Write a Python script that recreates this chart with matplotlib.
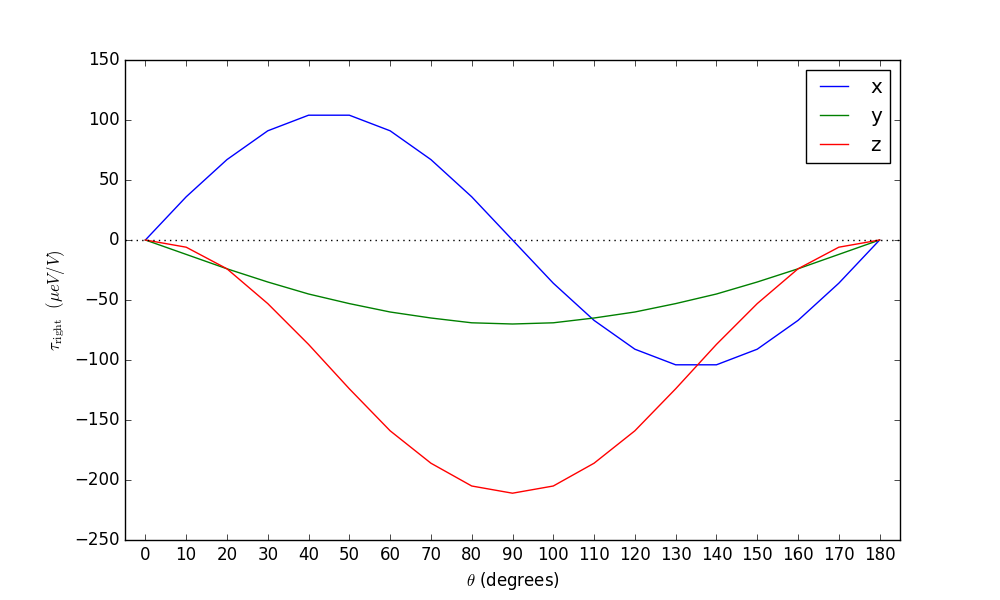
import matplotlib
matplotlib.use("Agg")
import matplotlib.pyplot as plt

plt.style.use("classic")

theta = list(range(0, 181, 10))
tau_x = [0, 36, 67, 91, 104, 104, 91, 67, 36, 0, -36, -67, -91, -104, -104, -91, -67, -36, 0]
tau_y = [0, -12, -24, -35, -45, -53, -60, -65, -69, -70, -69, -65, -60, -53, -45, -35, -24, -12, 0]
tau_z = [0, -6, -24, -53, -87, -124, -159, -186, -205, -211, -205, -186, -159, -124, -87, -53, -24, -6, 0]

fig = plt.figure(figsize=(10, 6), dpi=100, facecolor="white")
ax = fig.add_subplot(111)
ax.plot(theta, tau_x, "b-", label="x")
ax.plot(theta, tau_y, "g-", label="y")
ax.plot(theta, tau_z, "r-", label="z")
ax.axhline(0, color="k", linestyle=":")
ax.set_xlim(-5, 185)
ax.set_ylim(-250, 150)
ax.set_xticks(theta)
ax.set_xlabel(r"$\theta$ (degrees)")
ax.set_ylabel(r"$\tau_{\rm right}\ \ (\mu eV/V)$")
ax.legend(loc="upper right")
fig.savefig("out.png", dpi=100, facecolor="white")
